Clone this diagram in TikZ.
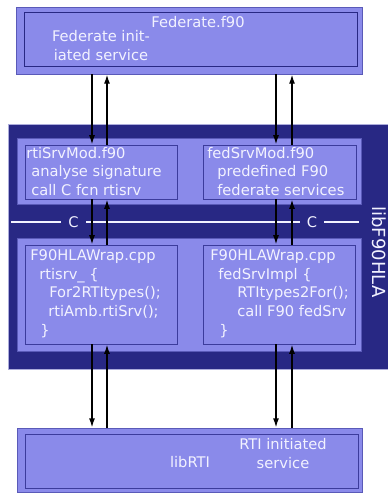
\documentclass[tikz,border=0pt]{standalone}
\usepackage{fontspec}
\setmainfont{DejaVu Sans}
\usetikzlibrary{arrows.meta,positioning,fit}
\definecolor{navy}{HTML}{282884}
\definecolor{lilac}{HTML}{8A8AEA}
\definecolor{edge}{HTML}{5A5AB8}
\definecolor{rim}{HTML}{3C3C9C}
\definecolor{pale}{HTML}{F2F2FF}
\tikzset{
  layer/.style={draw=edge, fill=lilac, line width=0.6pt, inner sep=0pt},
  module/.style={draw=rim, fill=lilac, line width=0.7pt, inner sep=0pt},
  lib/.style={draw=edge!50!white, fill=navy, line width=0.6pt, inner sep=0pt},
  txt/.style={text=pale, font=\fontsize{11}{13.9}\selectfont, align=left, inner sep=0pt, anchor=base west},
  ctr/.style={txt, align=center, anchor=base},
  arrow/.style={-{Latex[length=7pt,width=4.5pt]}, line width=1.1pt, draw=black},
  cline/.style={draw=pale, line width=1.5pt},
  ctag/.style={fill=navy, text=pale, font=\fontsize{11}{13.9}\selectfont, minimum width=18.5pt, minimum height=8pt, inner sep=0pt}
}

\begin{document}
\begin{tikzpicture}[x=0.75pt,y=-0.75pt]
\useasboundingbox (0,0) rectangle (388,493);
% federate
\node[layer, fit={(16,7) (362,74)}] (fed) {};
\node[module, draw=navy, fit={(24,12) (357,66)}] (fedin) {};
\node[ctr] (fedname) at (198,27) {Federate.f90};
\node[ctr] (fedinit) at (101,60.5) {Federate init-\\iated service};
% libF90HLA
\node[lib, fit={(8,124) (388,369)}] (lib) {};
\node[text=pale, font=\fontsize{13.5}{16}\selectfont, rotate=-90] (libname) at (379,252) {libF90HLA};
\node[layer, fit={(17,138) (361,204)}] (upper) {};
\node[layer, fit={(17,238) (361,351)}] (lower) {};
\node[module, fit={(25,145) (177,199)}] (rtimod) {};
\node[module, fit={(203,145) (356,199)}] (fedmod) {};
\node[module, fit={(25,245) (177,344)}] (rtiwrap) {};
\node[module, fit={(203,245) (355,344)}] (fedwrap) {};
\node[txt] (rtimodtxt) at (26,195.5) {rtiSrvMod.f90\\\hspace*{3.75pt}analyse signature\\\hspace*{3.75pt}call C fcn rtisrv};
\node[txt] (fedmodtxt) at (207,195.5) {fedSrvMod.f90\\\hspace*{7.5pt}predefined F90\\\hspace*{7.5pt}federate services};
\node[txt] (rtiwraptxt) at (30,335) {F90HLAWrap.cpp\\\hspace*{6.75pt}rtisrv\_ \{\\\hspace*{14.25pt}For2RTItypes();\\\hspace*{13.5pt}rtiAmb.rtiSrv();\\\hspace*{7.5pt}\}};
\node[txt] (fedwraptxt) at (210,335) {F90HLAWrap.cpp\\\hspace*{6pt}fedSrvImpl \{\\\hspace*{20.25pt}RTItypes2For();\\\hspace*{20.25pt}call F90 fedSrv\\\hspace*{6.75pt}\}};
% C boundary
\coordinate (cl) at (11,222);
\coordinate (cr) at (359,222);
\draw[cline] (cl) -- (cr);
\node[ctag] (cleft) at (73.5,222) {C};
\node[ctag] (cright) at (312,222) {C};
% libRTI
\node[layer, fit={(17,428) (362,492.5)}] (rti) {};
\node[module, fit={(25,434) (358,488)}] (rtiin) {};
\node[ctr] (rtiname) at (190,467) {libRTI};
\node[ctr] (rtiinit) at (283,468.5) {RTI initiated\\service};
% calls
\coordinate (xa) at (92,0);
\coordinate (xb) at (107,0);
\coordinate (xc) at (276,0);
\coordinate (xd) at (292,0);
\foreach \a/\b/\l/\r in {fed/rtimod/xa/xb, fed/fedmod/xc/xd, rtimod/rtiwrap/xa/xb, fedmod/fedwrap/xc/xd, rtiwrap/rti/xa/xb, fedwrap/rti/xc/xd} {
  \draw[arrow] (\a.south -| \l) -- (\b.north -| \l);
  \draw[arrow] (\b.north -| \r) -- (\a.south -| \r);
}
\end{tikzpicture}
\end{document}
